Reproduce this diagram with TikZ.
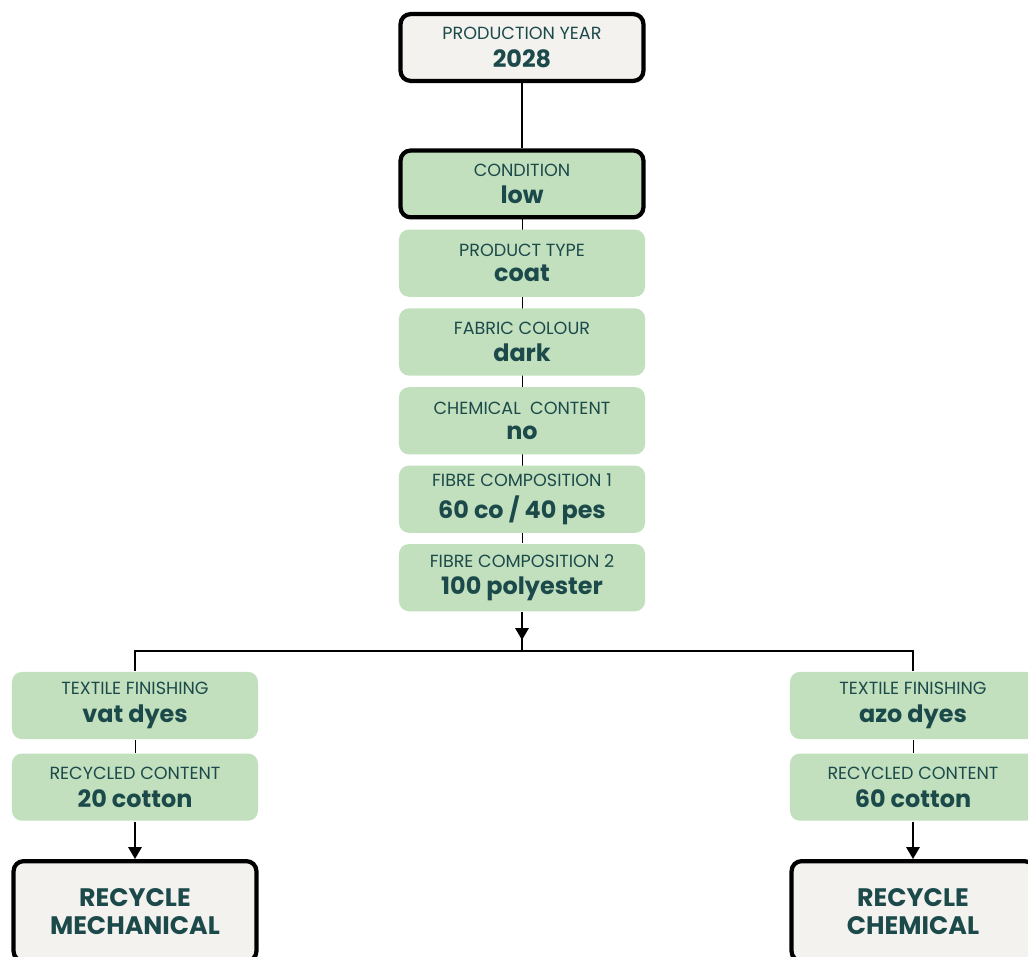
\documentclass[tikz,border=0pt]{standalone}
\usepackage{fontspec}
\setmainfont{Poppins}
\usetikzlibrary{arrows.meta,positioning,backgrounds}
\definecolor{leaf}{HTML}{C2E0BE}
\definecolor{paper}{HTML}{F3F2EE}
\definecolor{ink}{HTML}{1C4A4B}
\newcommand{\boxtext}[2]{{\fontsize{12.5}{14}\selectfont #1}\\[6pt]{\fontsize{17}{19}\selectfont\bfseries #2}}

\begin{document}
\begin{tikzpicture}[x=0.025cm,y=-0.025cm,>={Triangle[width=9.5pt,length=8.5pt]},line width=1.4pt]
\tikzstyle{attr}=[fill=leaf,rounded corners=0.25cm,text=ink,align=center,minimum width=6.15cm,minimum height=1.68cm,inner sep=0pt]
\tikzstyle{key}=[attr,draw=black,line width=3pt,minimum width=6.07cm,minimum height=1.67cm]
\tikzstyle{start}=[key,fill=paper]
\tikzstyle{result}=[start,minimum height=2.5cm,font=\fontsize{18}{20}\selectfont\bfseries]

\useasboundingbox (0,0) rectangle (1028,956);
\clip (0,0) rectangle (1028,956);

\node[start]	(year) at (522,47.5) {\boxtext{PRODUCTION YEAR}{2028}};
\node[key]	(cond) [below of=year,node distance=3.41cm] {\boxtext{CONDITION}{low}};
\node[attr]	(type) [below of=cond,node distance=1.98cm] {\boxtext{PRODUCT TYPE}{coat}};
\node[attr]	(colour) [below of=type,node distance=1.97cm] {\boxtext{FABRIC COLOUR}{dark}};
\node[attr]	(chem) [below of=colour,node distance=1.97cm] {\boxtext{CHEMICAL\ \ CONTENT}{no}};
\node[attr]	(fibre1) [below of=chem,node distance=1.96cm] {\boxtext{FIBRE COMPOSITION 1}{60 co / 40 pes}};
\node[attr]	(fibre2) [below of=fibre1,node distance=1.96cm] {\boxtext{FIBRE COMPOSITION 2}{100 polyester}};

\node[attr]	(finishL) at (135,705.5) {\boxtext{TEXTILE FINISHING}{vat dyes}};
\node[attr]	(recycL) [below of=finishL,node distance=2.04cm] {\boxtext{RECYCLED CONTENT}{20 cotton}};
\node[result]	(mech) [below of=recycL,node distance=3.1cm] {RECYCLE\\MECHANICAL};

\node[attr]	(finishR) at (913,705.5) {\boxtext{TEXTILE FINISHING}{azo dyes}};
\node[attr]	(recycR) [below of=finishR,node distance=2.04cm] {\boxtext{RECYCLED CONTENT}{60 cotton}};
\node[result]	(chemical) [below of=recycR,node distance=3.1cm] {RECYCLE\\CHEMICAL};

\coordinate (split) at (522,651);
\coordinate (tip) at (522,640);

\begin{scope}[on background layer]
\path[draw]
(cond) -- (fibre2)
(finishL) -- (recycL)
(finishR) -- (recycR)
;
\end{scope}

\path[draw]
(year) -- (cond)
(fibre2) -- (split)
(finishL.north) |- (split) -| (finishR.north)
;
\draw[->] (fibre2) -- (tip);
\draw[->] (recycL) -- (mech);
\draw[->] (recycR) -- (chemical);
\end{tikzpicture}
\end{document}
